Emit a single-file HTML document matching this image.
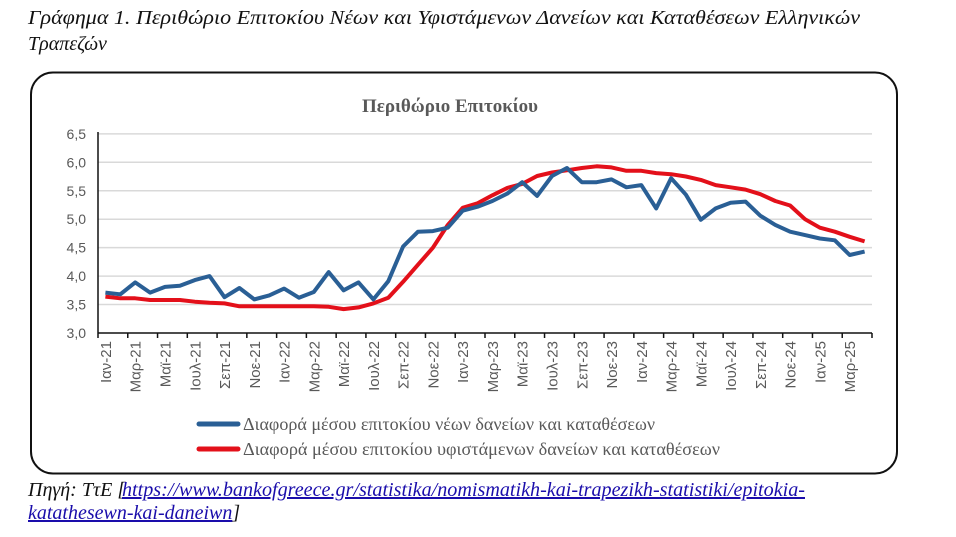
<!DOCTYPE html>
<html><head><meta charset="utf-8"><style>
html,body{margin:0;padding:0;background:#fff;width:956px;height:537px;overflow:hidden}
svg{display:block}
</style></head><body>
<svg width="956" height="537" xmlns="http://www.w3.org/2000/svg">
<text x="28" y="24" font-family="Liberation Serif, serif" font-style="italic" font-size="20" fill="#111" textLength="832" lengthAdjust="spacingAndGlyphs">Γράφημα 1. Περιθώριο Επιτοκίου Νέων και Υφιστάμενων Δανείων και Καταθέσεων Ελληνικών</text>
<text x="28" y="50" font-family="Liberation Serif, serif" font-style="italic" font-size="20" fill="#111">Τραπεζών</text>
<rect x="31" y="72.5" width="866" height="401" rx="22" ry="22" fill="#fff" stroke="#111" stroke-width="2"/>
<text x="450" y="112" text-anchor="middle" font-family="Liberation Serif, serif" font-weight="bold" font-size="19" fill="#595959">Περιθώριο Επιτοκίου</text>
<g id="grid" stroke="#d9d9d9" stroke-width="1.5"></g>
<g id="ylab" font-family="Liberation Sans, sans-serif" font-size="14" fill="#595959" text-anchor="end"></g>
<g id="xlab" font-family="Liberation Sans, sans-serif" font-size="15" fill="#595959" text-anchor="end"></g>
<line x1="98" y1="132" x2="98" y2="333" stroke="#111" stroke-width="1.5"/>
<line x1="98" y1="333" x2="872" y2="333" stroke="#111" stroke-width="1.5"/>
<g id="ticks" stroke="#111" stroke-width="1.5"></g>
<polyline id="red" fill="none" stroke="#e3101a" stroke-width="4" stroke-linejoin="round"/>
<polyline id="blue" fill="none" stroke="#2a5f95" stroke-width="4" stroke-linejoin="round"/>
<line x1="199" y1="424" x2="238" y2="424" stroke="#2a5f95" stroke-width="5" stroke-linecap="round"/>
<text x="243" y="430" font-family="Liberation Serif, serif" font-size="18" fill="#595959" textLength="412" lengthAdjust="spacingAndGlyphs">Διαφορά μέσου επιτοκίου νέων δανείων και καταθέσεων</text>
<line x1="199" y1="449" x2="238" y2="449" stroke="#e3101a" stroke-width="5" stroke-linecap="round"/>
<text x="243" y="455" font-family="Liberation Serif, serif" font-size="18" fill="#595959" textLength="477" lengthAdjust="spacingAndGlyphs">Διαφορά μέσου επιτοκίου υφιστάμενων δανείων και καταθέσεων</text>
<text x="28" y="496" font-family="Liberation Serif, serif" font-style="italic" font-size="20" fill="#111">Πηγή: ΤτΕ [</text>
<text x="122" y="496" font-family="Liberation Serif, serif" font-style="italic" font-size="20" fill="#1a0dab" text-decoration="underline" textLength="683" lengthAdjust="spacingAndGlyphs">https://www.bankofgreece.gr/statistika/nomismatikh-kai-trapezikh-statistiki/epitokia-</text>
<text x="28" y="519" font-family="Liberation Serif, serif" font-style="italic" font-size="20" fill="#111"><tspan fill="#1a0dab" text-decoration="underline">katathesewn-kai-daneiwn</tspan>]</text>
</svg>
<script>
var ns="http://www.w3.org/2000/svg";
function Y(v){return 333-56.9*(v-3);}
var g=document.getElementById('grid'),yl=document.getElementById('ylab'),xl=document.getElementById('xlab'),tk=document.getElementById('ticks');
for(var k=0;k<=7;k++){var v=3+k*0.5,y=Y(v);
 if(k>0){var l=document.createElementNS(ns,'line');l.setAttribute('x1',98);l.setAttribute('x2',872);l.setAttribute('y1',y);l.setAttribute('y2',y);g.appendChild(l);}
 var t=document.createElementNS(ns,'text');t.setAttribute('x',86);t.setAttribute('y',y+5);t.textContent=v.toFixed(1).replace('.',',');yl.appendChild(t);}
var W=(872-98)/52;
var mn=['Ιαν','Μαρ','Μαϊ','Ιουλ','Σεπ','Νοε'];
for(var i=0;i<=52;i+=2){var x=98+W*i;var l=document.createElementNS(ns,'line');l.setAttribute('x1',x);l.setAttribute('x2',x);l.setAttribute('y1',333);l.setAttribute('y2',338);tk.appendChild(l);}
for(var i=0;i<52;i+=2){var x=98+W*(i+0.5)+5.5;var t=document.createElementNS(ns,'text');
 t.setAttribute('transform','translate('+x+',341) rotate(-90)');
 t.textContent=mn[(i%12)/2]+'-'+(21+Math.floor(i/12));xl.appendChild(t);}
var blue=[3.71,3.68,3.89,3.71,3.81,3.83,3.93,4.0,3.63,3.79,3.59,3.66,3.78,3.62,3.72,4.07,3.75,3.89,3.59,3.91,4.52,4.78,4.79,4.85,5.15,5.22,5.32,5.45,5.65,5.41,5.76,5.9,5.65,5.65,5.7,5.56,5.6,5.19,5.72,5.43,4.99,5.19,5.29,5.31,5.06,4.9,4.78,4.72,4.66,4.63,4.37,4.43];
var red=[3.64,3.61,3.61,3.58,3.58,3.58,3.55,3.53,3.52,3.47,3.47,3.47,3.47,3.47,3.47,3.46,3.42,3.45,3.52,3.62,3.9,4.2,4.5,4.9,5.2,5.28,5.42,5.55,5.62,5.76,5.82,5.86,5.9,5.93,5.91,5.85,5.85,5.81,5.79,5.75,5.69,5.6,5.56,5.52,5.44,5.32,5.24,5.0,4.85,4.78,4.69,4.61];
function pts(a){return a.map(function(v,i){return (98+W*(i+0.5)).toFixed(1)+','+Y(v).toFixed(1);}).join(' ');}
document.getElementById('blue').setAttribute('points',pts(blue));
document.getElementById('red').setAttribute('points',pts(red));
</script>
</body></html>
